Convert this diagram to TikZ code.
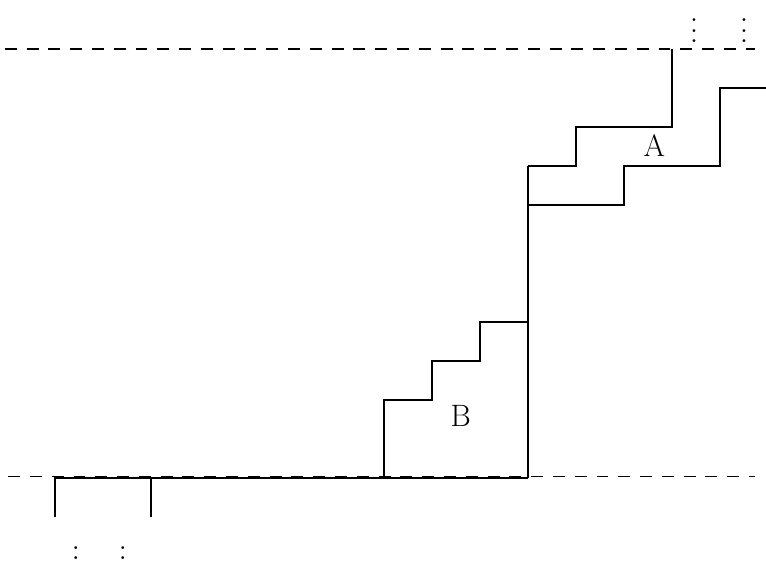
\documentclass[tikz,border=0pt]{standalone}
\usepackage{amsfonts, amsmath, amssymb}

\begin{document}
\begin{tikzpicture}[x=1.2cm, y=0.975cm, line width=1.1pt,
    niveau/.style={dash pattern=on 8.5pt off 7pt, line width=1pt},
    lettre/.style={font=\fontsize{22}{26}\selectfont},
    points/.style={inner sep=0pt}]
    \useasboundingbox (-11,-2.18) rectangle (4.958,12.26);

    % Niveaux horizontaux (pointilles)
    \draw[niveau] (-10.9,11) -- (4.73,11);
    \draw[niveau] (-10.83,0.04) -- (4.73,0.04);

    % Marches du bas
    \draw (-9.85,-1) -- (-9.85,0) -- (0,0);
    \draw (-7.85,-1) -- (-7.85,0);

    % Escalier B
    \draw (-3,0) -- (-3,2) -- (-2,2) -- (-2,3) -- (-1,3) -- (-1,4) -- (0,4);
    \draw (0,0) -- (0,8);
    \node[lettre] (B) at (-1.4,1.59) {B};

    % Escaliers A
    \draw (0,8) -- (1,8) -- (1,9) -- (3,9) -- (3,11);
    \draw (0,7) -- (2,7) -- (2,8) -- (4,8) -- (4,10) -- (4.96,10);
    \node[lettre] (A) at (2.63,8.54) {A};

    % Points de suspension
    \node[points] (h1) at (3.46,11.68) {\scalebox{1.9}{$\vdots$}};
    \node[points] (h2) at (4.5,11.68) {\scalebox{1.9}{$\vdots$}};
    \node[points] (b1) at (-9.42,-1.85) {\scalebox{1.9}{$\vdots$}};
    \node[points] (b2) at (-8.44,-1.85) {\scalebox{1.9}{$\vdots$}};

\end{tikzpicture}
\end{document}
